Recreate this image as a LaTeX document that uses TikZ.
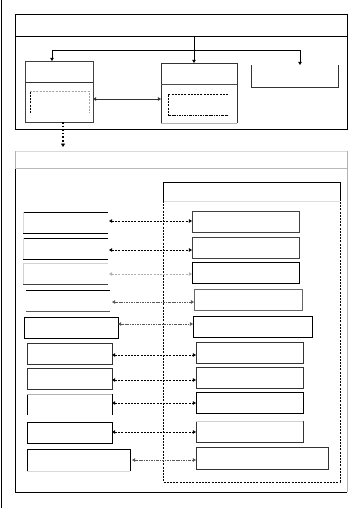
\documentclass[tikz,border=0pt]{standalone}
\usetikzlibrary{arrows.meta}
\begin{document}
\begin{tikzpicture}[x=1pt,y=-1pt,
  box/.style={draw=black, line width=0.8pt, rectangle, inner sep=0pt, outer sep=0pt, anchor=north west},
  ghost/.style={draw=none, rectangle, inner sep=0pt, outer sep=0pt, anchor=north west},
  ln/.style={line width=0.8pt, black},
  tip/.style={-{Triangle[length=3.2pt,width=3.6pt]}},
  link/.style={dashed, dash pattern=on 2pt off 1.2pt, line width=0.6pt, {Triangle[length=3.2pt,width=3.6pt]}-{Triangle[length=3.2pt,width=3.6pt]}},
  glink/.style={link, draw=gray!60, line width=1pt},
  dlink/.style={link, dash pattern=on 2.5pt off 1pt on 0.8pt off 1pt, draw=gray!70!black},
  idash/.style={dashed, dash pattern=on 2pt off 1.2pt, line width=0.6pt},
]
\useasboundingbox (0,0) rectangle (360,512);
\fill[white] (0,0) rectangle (360,512);
% left margin rule
\coordinate (m1) at (1.5,0);
\coordinate (m2) at (1.5,508);
\draw[line width=1.4pt] (m1) -- (m2);

% ---------- top frame ----------
\node[box, minimum width=332pt, minimum height=115pt] (top) at (15,14) {};
\draw[ln] ([yshift=-22pt]top.north west) -- ([yshift=-22pt]top.north east);
\coordinate (hub) at (194,36);
\coordinate (bar) at (194,50);
\coordinate (barL) at (52,50);
\coordinate (barR) at (300,50);
\draw[ln] (hub) -- (bar);
\draw[ln] (barL) -- (barR);

% left box
\node[box, draw=black!75, minimum width=68pt, minimum height=61pt] (lb) at (25,61) {};
\draw[ln, black!80] ([yshift=-21pt]lb.north west) -- ([yshift=-21pt]lb.north east);
\node[ghost, minimum width=59pt, minimum height=22pt] (lbi) at (30,91) {};
\draw[idash, black] (lbi.south west) -- (lbi.north west);
\draw[idash, gray!70] (lbi.north west) -- (lbi.north east) -- (lbi.south east);
% middle box
\node[ghost, minimum width=76pt, minimum height=60pt] (mb) at (161,63) {};
\draw[ln, black!80] (mb.south west) -- (mb.north west) -- (mb.north east) -- (mb.south east);
\draw[line width=0.8pt, gray!60] (mb.south west) -- (mb.south east);
\draw[ln, black!70] ([yshift=-21pt]mb.north west) -- ([yshift=-21pt]mb.north east);
\node[ghost, minimum width=60pt, minimum height=21pt] (mbi) at (168,94) {};
\draw[idash] (mbi.north east) -- (mbi.north west) -- (mbi.south west);
\draw[idash, dash pattern=on 2.5pt off 1pt on 0.8pt off 1pt] (mbi.south west) -- (mbi.south east);
% right U box
\node[ghost, minimum width=87pt, minimum height=22pt] (rb) at (251,65) {};
\draw[ln, black!80] (rb.north west) -- (rb.south west) -- (rb.south east) -- (rb.north east);

% drop arrows
\draw[ln, tip] (barL) -- (barL |- lb.north);
\draw[ln, tip] (bar) -- (bar |- mb.north);
\draw[ln, tip] (barR) -- (barR |- rb.north);

% link between left and middle box
\coordinate (ly) at (0,99);
\draw[line width=0.6pt, black!80, {Triangle[length=3.2pt,width=3.6pt]}-{Triangle[length=3.2pt,width=3.6pt]}] (lb.east |- ly) -- (mb.west |- ly);

% thick dotted drop
\coordinate (dd) at (63,147);
\draw[line width=1.6pt, dotted, -{Triangle[length=3.5pt,width=4pt]}] (lb.south -| dd) -- (dd);

% ---------- bottom frame ----------
\node[ghost, minimum width=332pt, minimum height=341pt] (bot) at (15,151) {};
\draw[line width=0.8pt, gray!30] (bot.north west) -- (bot.north east);
\draw[line width=0.8pt, gray!60] (bot.north east) -- (bot.south east);
\draw[line width=0.8pt, gray!60] (bot.north west) -- ([yshift=-17pt]bot.north west);
\draw[ln] ([yshift=-17pt]bot.north west) -- (bot.south west) -- (bot.south east);
\draw[line width=0.7pt, gray!55] ([yshift=-17pt]bot.north west) -- ([yshift=-17pt]bot.north east);

% inner dashed container
\node[ghost, minimum width=177pt, minimum height=300pt] (cont) at (163,182) {};
\draw[ln] ([yshift=-19pt]cont.north west) -- (cont.north west) -- (cont.north east) -- ([yshift=-19pt]cont.north east);
\draw[line width=0.5pt, gray!25] ([yshift=-19pt]cont.north west) -- ([yshift=-19pt]cont.north east);
\draw[line width=0.7pt, dashed, dash pattern=on 2pt off 1.2pt] ([yshift=-19pt]cont.north west) -- (cont.south west) -- (cont.south east) -- ([yshift=-19pt]cont.north east);

% ---------- rows ----------
% row 1
\node[ghost, minimum width=85pt, minimum height=21pt] (l1) at (23,212) {};
\draw[ln] (l1.north west) -- (l1.north east);
\draw[ln] (l1.south west) -- (l1.south east);
\draw[line width=0.6pt, gray!30] (l1.north west) -- (l1.south west);
\node[box, draw=black!75, minimum width=107pt, minimum height=21pt] (r1) at (192,211) {};
% row 2
\node[ghost, minimum width=85pt, minimum height=21pt] (l2) at (23,238) {};
\draw[ln] (l2.north west) -- (l2.north east);
\draw[ln] (l2.south west) -- (l2.south east);
\draw[line width=0.6pt, gray!30] (l2.north west) -- (l2.south west);
\node[box, draw=black!75, minimum width=107pt, minimum height=21pt] (r2) at (192,237) {};
% row 3
\node[ghost, minimum width=85pt, minimum height=21pt] (l3) at (23,263) {};
\draw[line width=0.6pt, gray!35] (l3.north east) -- (l3.north west) -- (l3.south west);
\draw[ln, black!75] (l3.south west) -- (l3.south east);
\node[box, minimum width=107pt, minimum height=21pt] (r3) at (192,262) {};
% row 4
\node[ghost, minimum width=84pt, minimum height=21pt] (l4) at (26,290) {};
\draw[ln] (l4.north west) -- (l4.north east);
\draw[ln, black!65] (l4.south west) -- (l4.south east);
\node[box, draw=black!60, minimum width=108pt, minimum height=21pt] (r4) at (194,289) {};
% row 5
\node[box, minimum width=94pt, minimum height=21pt] (l5) at (24,317) {};
\node[box, minimum width=119pt, minimum height=21pt] (r5) at (193,316) {};
% row 6
\node[box, draw=black!80, minimum width=85pt, minimum height=21pt] (l6) at (27,343) {};
\node[box, draw=black!80, minimum width=107pt, minimum height=21pt] (r6) at (196,342) {};
% row 7
\node[box, draw=black!80, minimum width=85pt, minimum height=21pt] (l7) at (27,368) {};
\node[box, draw=black!80, minimum width=107pt, minimum height=21pt] (r7) at (196,367) {};
% row 8
\node[ghost, minimum width=85pt, minimum height=21pt] (l8) at (27,394) {};
\draw[ln] (l8.south west) -- (l8.north west);
\draw[ln] (l8.north east) -- (l8.south east);
\draw[line width=0.8pt, gray!60] (l8.north west) -- (l8.north east);
\node[box, minimum width=107pt, minimum height=21pt] (r8) at (196,392) {};
% row 9
\node[box, minimum width=85pt, minimum height=21pt] (l9) at (27,422) {};
\node[ghost, minimum width=107pt, minimum height=21pt] (r9) at (196,421) {};
\draw[ln, black!80] (r9.north west) -- (r9.south west) -- (r9.south east) -- (r9.north east);
\draw[line width=0.8pt, gray!35] (r9.north west) -- (r9.north east);
% row 10
\node[ghost, minimum width=103pt, minimum height=22pt] (l10) at (27,449) {};
\draw[ln] (l10.south west) -- (l10.north west) -- (l10.north east) -- (l10.south east);
\draw[line width=0.8pt, gray!30] (l10.south west) -- (l10.south east);
\node[box, draw=black!80, minimum width=132pt, minimum height=22pt] (r10) at (196,447) {};

% ---------- links ----------
\coordinate (y1) at (0,221);
\coordinate (y2) at (0,250);
\coordinate (y3) at (0,274);
\coordinate (y4) at (0,302);
\coordinate (y5) at (0,324);
\coordinate (y6) at (0,355);
\coordinate (y7) at (0,380);
\coordinate (y8) at (0,403);
\coordinate (y9) at (0,432);
\coordinate (y10) at (0,460);
\draw[link] ([xshift=1pt]l1.east |- y1) -- (r1.west |- y1);
\draw[link] ([xshift=1pt]l2.east |- y2) -- (r2.west |- y2);
\draw[glink] ([xshift=1pt]l3.east |- y3) -- (r3.west |- y3);
\draw[dlink] ([xshift=2pt]l4.east |- y4) -- (r4.west |- y4);
\draw[dlink] (l5.east |- y5) -- (r5.west |- y5);
\draw[link] (l6.east |- y6) -- (r6.west |- y6);
\draw[link] (l7.east |- y7) -- (r7.west |- y7);
\draw[link] (l8.east |- y8) -- (r8.west |- y8);
\draw[link] (l9.east |- y9) -- (r9.west |- y9);
\draw[dlink] ([xshift=2pt]l10.east |- y10) -- (r10.west |- y10);
\end{tikzpicture}
\end{document}
